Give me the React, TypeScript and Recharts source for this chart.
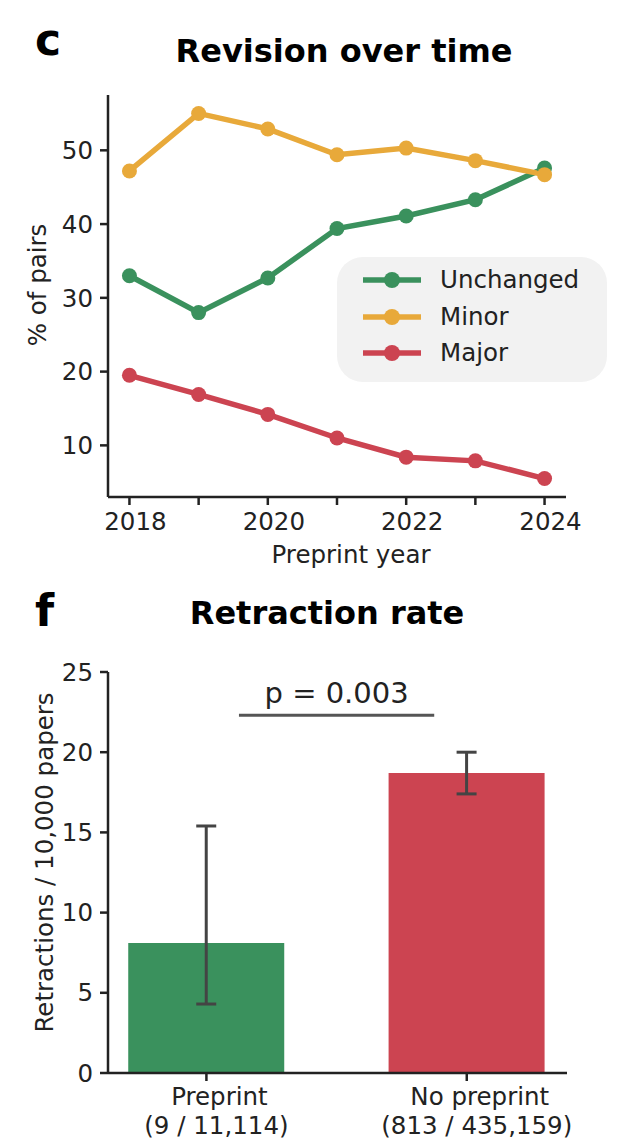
import React from 'react';
import {
  LineChart,
  Line,
  XAxis,
  YAxis,
  Legend,
  Label,
  BarChart,
  Bar,
  Cell,
  ErrorBar,
  ReferenceLine,
} from 'recharts';

// ---------- Panel c: Revision over time ----------
const years = [2018, 2019, 2020, 2021, 2022, 2023, 2024];
const unchangedPct = [33.0, 28.0, 32.7, 39.4, 41.1, 43.3, 47.6];
const minorPct = [47.2, 55.0, 52.9, 49.4, 50.3, 48.6, 46.7];
const majorPct = [19.5, 16.9, 14.2, 11.0, 8.4, 7.9, 5.5];
const pctTicks = [10, 20, 30, 40, 50];
const seriesNames = ['Unchanged', 'Minor', 'Major'];

// ---------- Panel f: Retraction rate ----------
const groups = ['Preprint', 'No preprint'];
const groupCounts = ['(9 / 11,114)', '(813 / 435,159)'];
const rates = [8.1, 18.7];
const ciLow = [4.3, 17.4];
const ciHigh = [15.4, 20.0];
const rateTicks = [0, 5, 10, 15, 20, 25];
const pValueText = 'p = 0.003';
const bracketLevel = 22.3;
const bracketSpan = [0.125, 0.875];

const FONT = '"DejaVu Sans", Verdana, sans-serif';
const GREEN = '#3a915d';
const YELLOW = '#e8a93a';
const RED = '#cc4451';
const INK = '#222222';
const FS = 24.5;

const lineData = years.map((y, i) => ({
  year: y,
  unchanged: unchangedPct[i],
  minor: minorPct[i],
  major: majorPct[i],
}));

const barData = groups.map((g, i) => ({
  pos: i,
  name: g,
  count: groupCounts[i],
  rate: rates[i],
  err: [rates[i] - ciLow[i], ciHigh[i] - rates[i]],
}));

const barColors = [GREEN, RED];

const renderLegend = (props: any) => {
  const items = [...(props.payload || [])].sort(
    (a: any, b: any) => seriesNames.indexOf(a.value) - seriesNames.indexOf(b.value)
  );
  return (
    <div
      style={{
        boxSizing: 'border-box',
        width: 270,
        height: 125,
        background: '#f2f2f2',
        borderRadius: 26,
        padding: '5px 0 0 26px',
        fontFamily: FONT,
      }}
    >
      {items.map((e: any) => (
        <div key={e.value} style={{ display: 'flex', alignItems: 'center', height: 36.5 }}>
          <svg width={58} height={20} style={{ display: 'block' }}>
            <line x1={0} y1={10} x2={58} y2={10} stroke={e.color} strokeWidth={5.5} />
            <circle cx={29} cy={10} r={8} fill={e.color} />
          </svg>
          <span style={{ marginLeft: 19, fontSize: FS, color: INK, lineHeight: '36.5px' }}>{e.value}</span>
        </div>
      ))}
    </div>
  );
};

const BarTick = (props: any) => {
  const { x, y, payload } = props;
  const d = barData[Math.round(payload.value)];
  if (!d) return null;
  return (
    <g>
      <text x={x + 13} y={y + 21.5} textAnchor="middle" fontSize={FS} fill={INK}>
        {d.name}
      </text>
      <text x={x + 10} y={y + 50.5} textAnchor="middle" fontSize={FS} fill={INK}>
        {d.count}
      </text>
    </g>
  );
};

const rotatedLabel = (text: string, fromLeft: number, shiftUp: number) => (props: any) => {
  const vb = props.viewBox || { x: 0, y: 0, width: 0, height: 0 };
  const cx = vb.x + fromLeft;
  const cy = vb.y + vb.height / 2 - shiftUp;
  return (
    <text
      x={cx}
      y={cy}
      transform={`rotate(-90 ${cx} ${cy})`}
      textAnchor="middle"
      dy="0.35em"
      fontSize={FS}
      fill={INK}
    >
      {text}
    </text>
  );
};

const xTitleLabel = (text: string) => (props: any) => {
  const vb = props.viewBox || { x: 0, y: 0, width: 0, height: 0 };
  return (
    <text x={vb.x + vb.width / 2 + 14} y={vb.y + 66} textAnchor="middle" fontSize={FS} fill={INK}>
      {text}
    </text>
  );
};

const axisLine = { stroke: INK, strokeWidth: 2.5 };
const tickLine = { stroke: INK, strokeWidth: 2.5 };

const dotStyle = (c: string) => ({ r: 7.5, fill: c, stroke: c, strokeWidth: 0 });

export default function App() {
  return (
    <div
      style={{
        position: 'absolute',
        left: 0,
        top: 0,
        width: 625,
        height: 1144,
        background: '#ffffff',
        fontFamily: FONT,
        color: INK,
      }}
    >
      <div style={{ position: 'absolute', left: 0, top: 0 }}>
        <LineChart width={625} height={580} data={lineData} margin={{ top: 95, right: 59, left: 0, bottom: 0 }}>
          <XAxis
            dataKey="year"
            type="number"
            domain={[2017.69, 2024.31]}
            allowDataOverflow
            ticks={years}
            tickFormatter={(v: number) => (v % 2 === 0 ? String(v) : '')}
            height={83}
            tickSize={8}
            tickMargin={8}
            axisLine={axisLine}
            tickLine={tickLine}
            tick={{ fontSize: FS, fill: INK, dx: 6 } as any}
          >
            <Label content={xTitleLabel('Preprint year')} />
          </XAxis>
          <YAxis
            type="number"
            domain={[3, 57.5]}
            allowDataOverflow
            ticks={pctTicks}
            width={108}
            tickSize={8}
            tickMargin={7}
            axisLine={axisLine}
            tickLine={tickLine}
            tick={{ fontSize: FS, fill: INK }}
          >
            <Label content={rotatedLabel('% of pairs', 37, 11)} />
          </YAxis>
          <Legend
            layout="vertical"
            align="center"
            verticalAlign="middle"
            itemSorter={null as any}
            wrapperStyle={{ left: 337, top: 257, width: 270, height: 125 }}
            content={renderLegend}
          />
          <Line
            name={seriesNames[0]}
            dataKey="unchanged"
            stroke={GREEN}
            strokeWidth={5.5}
            dot={dotStyle(GREEN)}
            activeDot={false}
            isAnimationActive={false}
          />
          <Line
            name={seriesNames[1]}
            dataKey="minor"
            stroke={YELLOW}
            strokeWidth={5.5}
            dot={dotStyle(YELLOW)}
            activeDot={false}
            isAnimationActive={false}
          />
          <Line
            name={seriesNames[2]}
            dataKey="major"
            stroke={RED}
            strokeWidth={5.5}
            dot={dotStyle(RED)}
            activeDot={false}
            isAnimationActive={false}
          />
        </LineChart>
      </div>

      <div style={{ position: 'absolute', left: 0, top: 560 }}>
        <BarChart width={625} height={584} data={barData} margin={{ top: 112, right: 58, left: 0, bottom: 0 }}>
          <XAxis
            dataKey="pos"
            type="number"
            domain={[-0.378, 1.385]}
            allowDataOverflow
            ticks={[0, 1]}
            height={71}
            tickSize={8}
            tickMargin={2}
            axisLine={axisLine}
            tickLine={tickLine}
            tick={<BarTick />}
          />
          <YAxis
            type="number"
            domain={[0, 25]}
            allowDataOverflow
            ticks={rateTicks}
            width={108}
            tickSize={8}
            tickMargin={7}
            axisLine={axisLine}
            tickLine={tickLine}
            tick={{ fontSize: FS, fill: INK }}
          >
            <Label content={rotatedLabel('Retractions / 10,000 papers', 44, 10)} />
          </YAxis>
          <Bar dataKey="rate" barSize={156} isAnimationActive={false}>
            {barData.map((d, i) => (
              <Cell key={d.name} fill={barColors[i]} />
            ))}
            <ErrorBar dataKey="err" direction="y" width={10} stroke="#444444" strokeWidth={3} />
          </Bar>
          <ReferenceLine
            segment={[
              { x: bracketSpan[0], y: bracketLevel },
              { x: bracketSpan[1], y: bracketLevel },
            ]}
            stroke="#555555"
            strokeWidth={3}
            label={{ value: pValueText, position: 'top', offset: 12, fontSize: 29, fill: INK }}
          />
        </BarChart>
      </div>

      <svg
        width={625}
        height={1144}
        style={{ position: 'absolute', left: 0, top: 0, pointerEvents: 'none' }}
      >
        <text x={35} y={55} fontSize={44} fontWeight="bold" fill="#000">
          c
        </text>
        <text x={344} y={62} fontSize={32} fontWeight="bold" textAnchor="middle" fill="#000">
          Revision over time
        </text>
        <text x={35} y={626} fontSize={44} fontWeight="bold" fill="#000">
          f
        </text>
        <text x={327} y={624} fontSize={32} fontWeight="bold" textAnchor="middle" fill="#000">
          Retraction rate
        </text>
      </svg>
    </div>
  );
}
